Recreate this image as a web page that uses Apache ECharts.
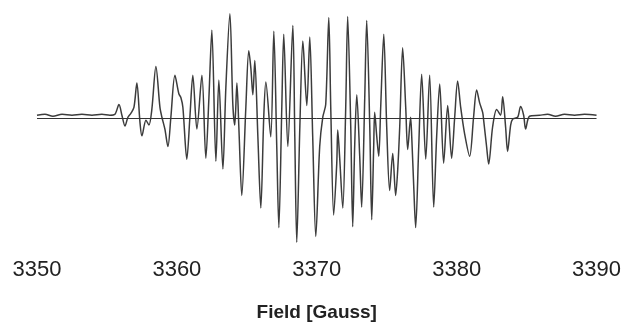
<!DOCTYPE html>
<html>
<head>
<meta charset="utf-8">
<style>
  html, body { margin: 0; padding: 0; background: #fff; }
  #chart { width: 624px; height: 327px; }
</style>
<script src="https://cdn.jsdelivr.net/npm/echarts@6/dist/echarts.min.js"></script>
</head>
<body>
<div id="chart"></div>
<script>
// magnetic field (Gauss) at each traced point of the EPR derivative spectrum
const fieldG = [
  3350.00, 3350.57, 3351.14, 3351.79, 3352.50, 3353.21, 3353.93, 3354.64, 3355.21, 3355.57,
  3355.86, 3356.07, 3356.29, 3356.50, 3356.71, 3356.93, 3357.14, 3357.36, 3357.50, 3357.79,
  3358.00, 3358.21, 3358.50, 3358.79, 3358.93, 3359.14, 3359.36, 3359.57, 3359.86, 3360.14,
  3360.29, 3360.43, 3360.71, 3360.93, 3361.14, 3361.43, 3361.79, 3362.07, 3362.29, 3362.50,
  3362.79, 3363.00, 3363.29, 3363.50, 3363.79, 3364.00, 3364.14, 3364.29, 3364.43, 3364.64,
  3364.93, 3365.14, 3365.29, 3365.43, 3365.57, 3365.79, 3366.00, 3366.21, 3366.36, 3366.71,
  3366.93, 3367.14, 3367.29, 3367.50, 3367.64, 3367.93, 3368.29, 3368.43, 3368.57, 3368.79,
  3369.00, 3369.07, 3369.29, 3369.50, 3369.71, 3369.93, 3370.21, 3370.43, 3370.64, 3370.86,
  3371.00, 3371.21, 3371.43, 3371.50, 3371.64, 3371.86, 3372.07, 3372.21, 3372.43, 3372.57,
  3372.71, 3372.86, 3373.07, 3373.21, 3373.43, 3373.57, 3373.79, 3373.93, 3374.07, 3374.14,
  3374.29, 3374.43, 3374.57, 3374.79, 3375.00, 3375.21, 3375.43, 3375.64, 3375.79, 3375.93,
  3376.14, 3376.36, 3376.50, 3376.71, 3376.79, 3376.93, 3377.07, 3377.29, 3377.50, 3377.79,
  3378.07, 3378.36, 3378.57, 3378.79, 3379.07, 3379.36, 3379.64, 3379.86, 3380.07, 3380.29,
  3380.57, 3380.93, 3381.21, 3381.43, 3381.64, 3381.86, 3381.93, 3382.14, 3382.29, 3382.57,
  3382.86, 3383.14, 3383.29, 3383.50, 3383.64, 3383.86, 3384.00, 3384.36, 3384.57, 3384.79,
  3384.93, 3385.21, 3385.93, 3386.50, 3387.07, 3387.71, 3388.43, 3389.14, 3390.00
]

// signal intensity (arbitrary units)
const signal = [
  3, 4, 2, 4, 3, 4, 3, 4, 3, 4,
  14, 3, -8, 1, 5, 11, 36, -4, -18, -2,
  -7, 9, 53, 11, 1, -11, -29, 1, 44, 25,
  21, 11, -42, 1, 44, -11, 44, -41, 21, 90,
  -44, 39, -52, 31, 107, 14, -7, 36, -9, -79,
  11, 69, 51, 24, 59, -19, -92, 1, 37, -19,
  89, -29, -112, 11, 86, -29, 95, -19, -127, -9,
  79, 66, 13, 83, -19, -121, -29, 1, 14, 103,
  11, -99, -46, -12, -41, -92, 11, 104, -9, -111,
  -29, 24, -39, -91, 21, 100, -9, -104, -29, 6,
  -19, -39, 11, 86, -9, -74, -36, -79, -52, -9,
  72, 11, -32, 1, -19, -69, -112, -29, 45, -42,
  44, -91, -19, 35, -46, 13, -41, 1, 38, 11,
  -16, -39, 1, 29, 16, 6, -2, -29, -47, -9,
  9, 3, 22, -9, -34, -7, -1, 1, 12, 3,
  -11, 2, 3, 4, 2, 4, 3, 4, 3
]

const xTicks = [3350, 3360, 3370, 3380, 3390]

const spectrum = fieldG.map((g, i) => [g, signal[i]])

const myEcharts = echarts.init(document.getElementById('chart'))
myEcharts.setOption({
  animation: false,
  backgroundColor: '#ffffff',
  grid: { left: 37, right: 27, top: 0, height: 260 },
  xAxis: {
    type: 'value',
    min: xTicks[0],
    max: xTicks[xTicks.length - 1],
    interval: 10,
    axisLine: { show: false },
    axisTick: { show: false },
    splitLine: { show: false },
    axisLabel: {
      margin: 5,
      fontSize: 22,
      color: '#222',
      fontFamily: 'Liberation Sans, Arial, sans-serif',
      formatter: (v) => String(v)
    },
    name: 'Field [Gauss]',
    nameLocation: 'middle',
    nameGap: 49,
    nameTextStyle: {
      fontSize: 19,
      fontWeight: 'bold',
      color: '#222',
      fontFamily: 'Liberation Sans, Arial, sans-serif'
    }
  },
  yAxis: {
    type: 'value',
    min: -139,
    max: 121,
    show: false
  },
  series: [
    {
      type: 'line',
      data: spectrum,
      showSymbol: false,
      smooth: 0.3,
      lineStyle: { color: '#3c3c3c', width: 1.5 },
      markLine: {
        silent: true,
        symbol: 'none',
        label: { show: false },
        lineStyle: { color: '#333', width: 1, type: 'solid' },
        data: [{ yAxis: 0 }]
      }
    }
  ]
})
</script>
</body>
</html>
